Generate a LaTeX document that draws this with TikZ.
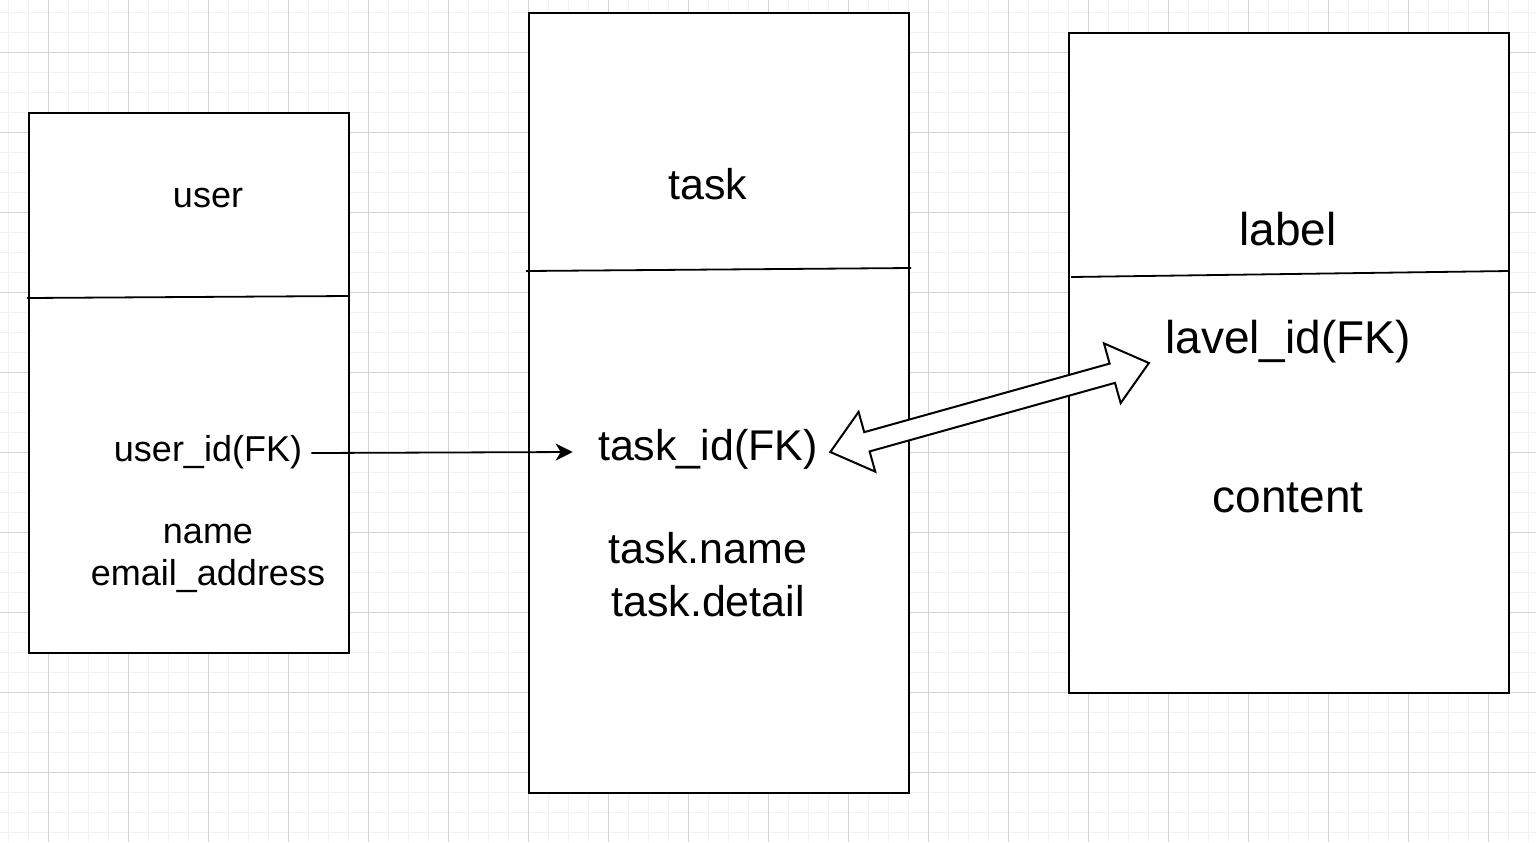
\documentclass[tikz,border=0pt]{standalone}
\usepackage{fontspec}
\setmainfont{Liberation Sans}
\usetikzlibrary{calc,arrows.meta}
\definecolor{gridminor}{RGB}{242,242,242}
\definecolor{gridmajor}{RGB}{212,212,212}
\tikzset{
	tablebox/.style={rectangle, draw=black, fill=white, line width=1pt, inner sep=0pt},
	divline/.style={line width=0.9pt},
	smalltext/.style={anchor=base, inner sep=0pt, font=\fontsize{18}{21}\selectfont},
	midtext/.style={anchor=base, inner sep=0pt, font=\fontsize{21.5}{26}\selectfont},
	bigtext/.style={anchor=base, inner sep=0pt, font=\fontsize{23}{27}\selectfont},
	fkarrow/.style={line width=0.9pt, -{Stealth[length=8.5pt, width=8.5pt, inset=2.5pt]}},
	flexarrow/.style={line width=1pt, fill=white, line join=miter}
}
\begin{document}
\begin{tikzpicture}[x=0.5pt, y=-0.5pt]
		\useasboundingbox (0,0) rectangle (1536,842);
		\fill[white] (0,0) rectangle (1536,842);
		% background grid
		\foreach \gx in {8,28,...,1528} \draw[gridminor, line width=0.5pt] (\gx,0) -- (\gx,842);
		\foreach \gy in {12,32,...,832} \draw[gridminor, line width=0.5pt] (0,\gy) -- (1536,\gy);
		\foreach \gx in {48,128,...,1528} \draw[gridmajor, line width=0.5pt] (\gx,0) -- (\gx,842);
		\foreach \gy in {52,132,...,832} \draw[gridmajor, line width=0.5pt] (0,\gy) -- (1536,\gy);

		% tables
		\node[tablebox, minimum width=160pt, minimum height=270pt] at (189,383) (user) {};
		\node[tablebox, minimum width=190pt, minimum height=390pt] at (719,403) (task) {};
		\node[tablebox, minimum width=220pt, minimum height=330pt] at (1289,363) (label) {};

		\draw[divline] (27,298) -- (349,296);
		\draw[divline] (526,271) -- (911,268);
		\draw[divline] (1071,277) -- (1509,271);

		% user
		\node[smalltext] at (208,207) (usertitle) {user};
		\node[smalltext] at (208,461) (userid) {user\_id(FK)};
		\node[smalltext] at (208,543) (username) {name};
		\node[smalltext] at (208,585) (usermail) {email\_address};

		% task
		\node[midtext] at (708,199) (tasktitle) {task};
		\node[midtext] at (708,460) (taskid) {task\_id(FK)};
		\node[midtext] at (708,563) (taskname) {task.name};
		\node[midtext] at (708,616) (taskdetail) {task.detail};

		% label
		\node[bigtext] at (1288,245) (labeltitle) {label};
		\node[bigtext] at (1288,353) (lavelid) {lavel\_id(FK)};
		\node[bigtext] at (1288,512) (content) {content};

		\draw[fkarrow] ($(userid.base east)+(9,-8)$) -- ($(taskid.base west)+(-25,-8)$);

		% double arrow between task and label
		\coordinate (dA) at ($(taskid.base east)+(12,-8)$);
		\coordinate (dB) at ($(lavelid.base west)+(-16,10)$);
		\coordinate (hA) at ($(dA)!19pt!(dB)$);
		\coordinate (hB) at ($(dB)!19pt!(dA)$);
		\draw[flexarrow] (dA) -- ($(hA)!15.5pt!90:(dB)$) -- ($(hA)!5pt!90:(dB)$)
			-- ($(hB)!5pt!-90:(dA)$) -- ($(hB)!15.5pt!-90:(dA)$) -- (dB)
			-- ($(hB)!15.5pt!90:(dA)$) -- ($(hB)!5pt!90:(dA)$)
			-- ($(hA)!5pt!-90:(dB)$) -- ($(hA)!15.5pt!-90:(dB)$) -- cycle;
	\end{tikzpicture}
\end{document}
